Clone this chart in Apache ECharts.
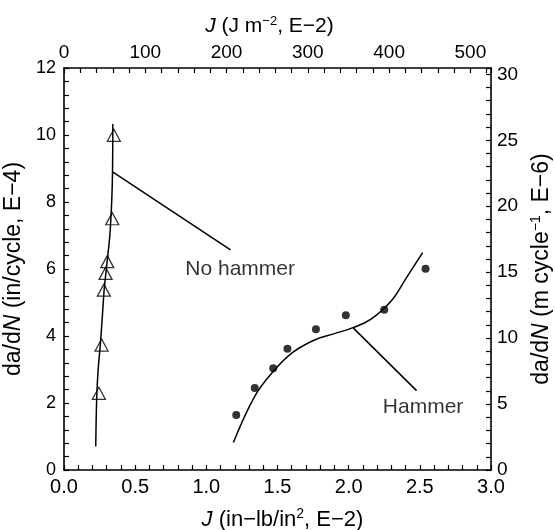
<!DOCTYPE html>
<html><head><meta charset="utf-8">
<script src="https://cdn.jsdelivr.net/npm/echarts@6/dist/echarts.min.js"></script>
<style>html,body{margin:0;padding:0;background:#fff}#c{width:555px;height:530px}</style>
</head><body><div id="c"></div>
<script>
// Data (bottom axis: J in in-lb/in^2 E-2, left axis: da/dN in in/cycle E-4)
const noHammerPoints = [[0.245,2.29],[0.264,3.73],[0.280,5.37],[0.292,5.87],[0.304,6.22],[0.339,7.50],[0.350,9.99]];
const noHammerCurve = [[0.223,0.70],[0.226,1.50],[0.231,2.29],[0.240,3.00],[0.254,3.68],[0.268,4.50],[0.282,5.37],[0.300,6.10],[0.322,7.00],[0.335,8.00],[0.341,8.90],[0.343,10.33]];
const hammerPoints = [[1.21,1.64],[1.34,2.45],[1.47,3.04],[1.57,3.62],[1.77,4.20],[1.98,4.62],[2.25,4.78],[2.54,6.01]];
const hammerCurve = [[1.19,0.82],[1.34,2.20],[1.47,2.94],[1.60,3.49],[1.76,3.88],[1.90,4.07],[2.03,4.25],[2.16,4.51],[2.30,5.05],[2.40,5.70],[2.52,6.49]];
const noHammerLeader = [[0.344,8.89],[1.17,6.57]];
const hammerLeader = [[2.03,4.25],[2.477,2.37]];
const annotationNames = ['No hammer','Hammer'];
const annotationPos = [[0.852,6.0],[2.24,1.87]];
const bottomTickLabels = ['0.0','0.5','1.0','1.5','2.0','2.5','3.0'];
const leftTickLabels = ['0','2','4','6','8','10','12'];
const topTickLabels = ['0','100','200','300','400','500'];
const rightTickLabels = ['0','5','10','15','20','25','30'];
const bottomRange = [0, 3];
const leftRange = [0, 12];
const J_FACTOR = 175.127;   // 1 in-lb/in^2 = 175.127 J/m^2
const RATE_FACTOR = 2.54;   // 1E-4 in = 2.54E-6 m

const FONT = 'Liberation Sans';
const black = '#000';
const axisLine = {show:true, onZero:false, lineStyle:{color:black, width:1.6}};
const tick = {show:true, inside:true, length:5, lineStyle:{color:black, width:1.2}};
const minor = {show:true, splitNumber:5, length:5, lineStyle:{color:black, width:1.2}};
function makeRich(size){
  return {
    i:{fontStyle:'italic', fontFamily:FONT, fontSize:size, color:black},
    sup:{fontSize:Math.round(size*0.62), fontFamily:FONT, verticalAlign:'top', color:black, padding:[0,0,Math.round(size*0.48),0]}
  };
}
function near(v, step){ const k = Math.round(v/step); return Math.abs(v-k*step) < 1e-6 ? k : -1; }

const chart = echarts.init(document.getElementById('c'), null, {renderer:'canvas'});
chart.setOption({
  animation:false,
  backgroundColor:'#fff',
  textStyle:{fontFamily:FONT, color:black},
  grid:{left:64, right:64, top:68, bottom:60, containLabel:false, outerBoundsMode:'none'},
  xAxis:[{
    type:'value', position:'bottom', min:bottomRange[0], max:bottomRange[1], interval:0.5,
    axisLine, axisTick:tick, minorTick:minor, splitLine:{show:false},
    axisLabel:{fontFamily:FONT, fontSize:20, color:black, margin:7,
      formatter:v=>{const k=near(v,0.5); return k>=0&&k<bottomTickLabels.length?bottomTickLabels[k]:'';}},
    name:'{i|J} (in−lb/in{sup|2}, E−2)', nameLocation:'middle', nameGap:37,
    nameTextStyle:{fontFamily:FONT, fontSize:22, color:black, rich:makeRich(22), padding:[0,0,0,10]}
  },{
    type:'value', position:'top', min:0, max:bottomRange[1]*J_FACTOR, interval:20,
    axisLine, axisTick:tick, splitLine:{show:false},
    axisLabel:{fontFamily:FONT, fontSize:19, color:black, margin:6,
      formatter:v=>{const k=near(v,100); return k>=0&&k<topTickLabels.length?topTickLabels[k]:'';}},
    name:'{i|J} (J m{sup|−2}, E−2)', nameLocation:'middle', nameGap:30,
    nameTextStyle:{fontFamily:FONT, fontSize:21, color:black, rich:makeRich(21), padding:[0,16,0,0]}
  }],
  yAxis:[{
    type:'value', position:'left', min:leftRange[0], max:leftRange[1], interval:2,
    axisLine, axisTick:tick, minorTick:minor, splitLine:{show:false},
    axisLabel:{fontFamily:FONT, fontSize:18, color:black, margin:8,
      formatter:v=>{const k=near(v,2); return k>=0&&k<leftTickLabels.length?leftTickLabels[k]:'';}},
    name:'da/d{i|N} (in/cycle, E−4)', nameLocation:'middle', nameGap:26, nameRotate:90,
    nameTextStyle:{fontFamily:FONT, fontSize:23, color:black, rich:makeRich(23)}
  },{
    type:'value', position:'right', min:0, max:leftRange[1]*RATE_FACTOR, interval:1,
    axisLine, axisTick:tick, splitLine:{show:false},
    axisLabel:{fontFamily:FONT, fontSize:19, color:black, margin:6,
      formatter:v=>{const k=near(v,5); return k>=0&&k<rightTickLabels.length?rightTickLabels[k]:'';}},
    name:'da/d{i|N} (m cycle{sup|−1}, E−6)', nameLocation:'middle', nameGap:38, nameRotate:90,
    nameTextStyle:{fontFamily:FONT, fontSize:23, color:black, rich:makeRich(23)}
  }],
  series:[
    {type:'line', data:noHammerCurve, showSymbol:false, smooth:0.3, lineStyle:{color:black, width:1.5}, silent:true},
    {type:'line', data:hammerCurve, showSymbol:false, smooth:0.4, lineStyle:{color:black, width:1.5}, silent:true},
    {type:'line', data:noHammerLeader, showSymbol:false, lineStyle:{color:black, width:1.5}, silent:true},
    {type:'line', data:hammerLeader, showSymbol:false, lineStyle:{color:black, width:1.5}, silent:true},
    {type:'scatter', data:noHammerPoints, symbol:'triangle', symbolSize:[13,12],
      itemStyle:{color:'rgba(0,0,0,0)', borderColor:black, borderWidth:1.3}, silent:true},
    {type:'scatter', data:hammerPoints, symbol:'circle', symbolSize:8, itemStyle:{color:black}, silent:true},
    {type:'scatter', data:annotationPos.map((p,i)=>({name:annotationNames[i], value:p})), symbolSize:0, silent:true,
      label:{show:true, position:'right', distance:0, formatter:p=>p.name, fontFamily:FONT, fontSize:21, color:black}}
  ]
});
</script></body></html>
